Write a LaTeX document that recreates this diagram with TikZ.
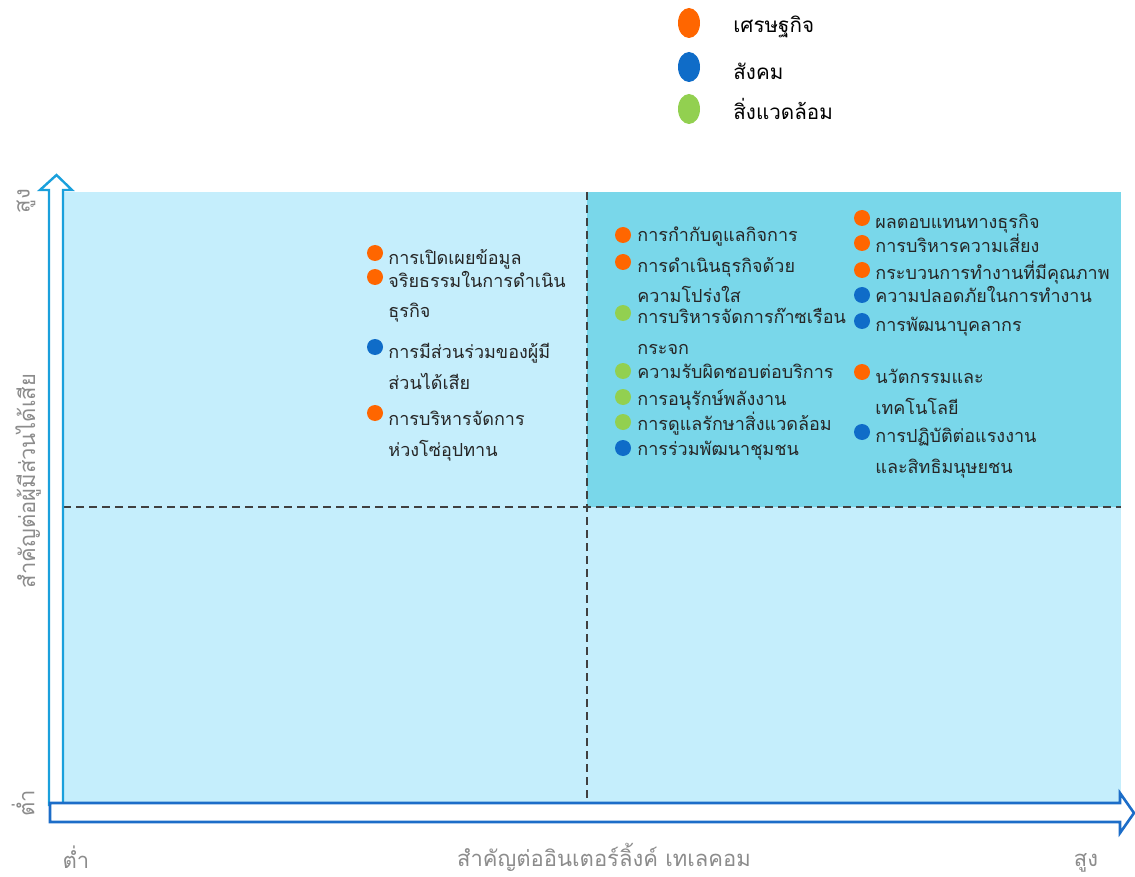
\documentclass[tikz,border=0pt]{standalone}
\usepackage{fontspec}
\newfontfamily\thaifont[Script=Thai]{Loma}
\usetikzlibrary{positioning, shapes.geometric}
\definecolor{Econ}{HTML}{FF6600}
\definecolor{Soc}{HTML}{0F6CC8}
\definecolor{Env}{HTML}{92D050}
\definecolor{PaleBg}{HTML}{C5EEFC}
\definecolor{HighBg}{HTML}{79D7EA}
\definecolor{AxisY}{HTML}{1AA0DC}
\definecolor{AxisX}{HTML}{1C6DC8}
\definecolor{LabelGray}{HTML}{8C8C8C}
\definecolor{TopicInk}{HTML}{262626}

\begin{document}
\begin{tikzpicture}[x=0.5pt, y=-0.5pt,
    dot/.style={circle, fill=#1, inner sep=0pt, minimum size=8pt},
    legdot/.style={ellipse, fill=#1, inner sep=0pt, minimum width=11pt, minimum height=15pt},
    topic/.style={anchor=base west, inner sep=0pt, align=left, text=TopicInk, font=\thaifont\fontsize{9}{15.5}\selectfont},
    legtext/.style={anchor=base west, inner sep=0pt, text=black, font=\thaifont\fontsize{10.3}{13}\selectfont},
    axislabel/.style={inner sep=0pt, text=LabelGray, font=\thaifont\fontsize{11}{13}\selectfont},
    quadline/.style={draw=black!75, dash pattern=on 4pt off 2.5pt, line width=0.6pt}]
    \useasboundingbox (0,0) rectangle (1135,877);
    % quadrants
    \coordinate (TL) at (63,192);
    \coordinate (BR) at (1121,805);
    \coordinate (M) at (587,507);
    \fill[PaleBg] (TL) rectangle (BR);
    \fill[HighBg] (M |- TL) rectangle (BR |- M);
    \draw[quadline] (M |- TL) -- (M |- BR);
    \draw[quadline] (TL |- M) -- (BR |- M);
    % axes
    \draw[AxisY, line width=1.2pt, fill=white] (49,806) -- (49,190) -- (40,190) -- (56.5,175) -- (72,190) -- (63,190) -- (63,806);
    \draw[AxisX, line width=1.3pt, fill=white] (50,803) -- (1120,803) -- (1120,793) -- (1134,813) -- (1120,833) -- (1120,822) -- (50,822) -- cycle;
    \node[axislabel, rotate=90] (yhigh) at (26,201) {สูง};
    \node[axislabel, rotate=90] (ylow) at (23,803) {ต่ำ};
    \node[axislabel, rotate=90] (ytitle) at (28,481) {สำคัญต่อผู้มีส่วนได้เสีย};
    \node[axislabel] (xlow) at (76,857) {ต่ำ};
    \node[axislabel] (xtitle) at (604,857) {สำคัญต่ออินเตอร์ลิ้งค์ เทเลคอม};
    \node[axislabel] (xhigh) at (1086,863) {สูง};
    % legend
    \node[legdot=Econ] (lg1) at (689,23) {};
    \node[legdot=Soc] (lg2) at (689,67) {};
    \node[legdot=Env] (lg3) at (689,109) {};
    \node[legtext] (lg1t) at (733,33) {เศรษฐกิจ};
    \node[legtext] (lg2t) at (733,80) {สังคม};
    \node[legtext] (lg3t) at (733,120) {สิ่งแวดล้อม};
    % upper left quadrant (two-line texts sit on the baseline of their last line)
    \node[dot=Econ] (a1) at (375,253) {};
    \node[topic] (a1t) at (388,264) {การเปิดเผยข้อมูล};
    \node[dot=Econ] (a2) at (375,277) {};
    \node[topic] (a2t) at (388,318) {จริยธรรมในการดำเนิน\\ธุรกิจ};
    \node[dot=Soc] (a3) at (375,347) {};
    \node[topic] (a3t) at (388,389) {การมีส่วนร่วมของผู้มี\\ส่วนได้เสีย};
    \node[dot=Econ] (a4) at (375,413) {};
    \node[topic] (a4t) at (388,456) {การบริหารจัดการ\\ห่วงโซ่อุปทาน};
    % upper right quadrant, first column
    \node[dot=Econ] (b1) at (623,235) {};
    \node[topic] (b1t) at (637,242) {การกำกับดูแลกิจการ};
    \node[dot=Econ] (b2) at (623,262) {};
    \node[topic] (b2t) at (637,303) {การดำเนินธุรกิจด้วย\\ความโปร่งใส};
    \node[dot=Env] (b3) at (623,313) {};
    \node[topic] (b3t) at (637,354) {การบริหารจัดการก๊าซเรือน\\กระจก};
    \node[dot=Env] (b4) at (623,371) {};
    \node[topic] (b4t) at (637,378) {ความรับผิดชอบต่อบริการ};
    \node[dot=Env] (b5) at (623,397) {};
    \node[topic] (b5t) at (637,405) {การอนุรักษ์พลังงาน};
    \node[dot=Env] (b6) at (623,422) {};
    \node[topic] (b6t) at (637,430) {การดูแลรักษาสิ่งแวดล้อม};
    \node[dot=Soc] (b7) at (623,448) {};
    \node[topic] (b7t) at (637,455) {การร่วมพัฒนาชุมชน};
    % upper right quadrant, second column
    \node[dot=Econ] (c1) at (862,218) {};
    \node[topic] (c1t) at (875,229) {ผลตอบแทนทางธุรกิจ};
    \node[dot=Econ] (c2) at (862,243) {};
    \node[topic] (c2t) at (875,253) {การบริหารความเสี่ยง};
    \node[dot=Econ] (c3) at (862,270) {};
    \node[topic] (c3t) at (875,280) {กระบวนการทำงานที่มีคุณภาพ};
    \node[dot=Soc] (c4) at (862,295) {};
    \node[topic] (c4t) at (875,303) {ความปลอดภัยในการทำงาน};
    \node[dot=Soc] (c5) at (862,321) {};
    \node[topic] (c5t) at (875,331) {การพัฒนาบุคลากร};
    \node[dot=Econ] (c6) at (862,372) {};
    \node[topic] (c6t) at (875,414) {นวัตกรรมและ\\เทคโนโลยี};
    \node[dot=Soc] (c7) at (862,432) {};
    \node[topic] (c7t) at (875,473) {การปฏิบัติต่อแรงงาน\\และสิทธิมนุษยชน};
\end{tikzpicture}
\end{document}
